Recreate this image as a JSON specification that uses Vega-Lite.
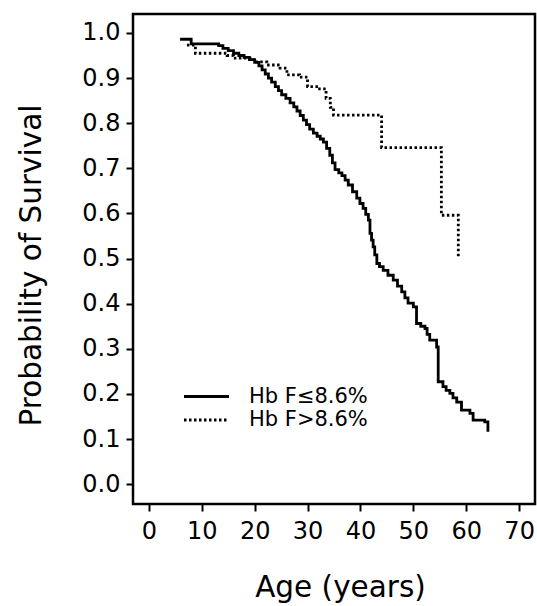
{
  "$schema": "https://vega.github.io/schema/vega-lite/v6.json",
  "autosize": {"type": "none"},
  "width": 402,
  "height": 490,
  "padding": {"left": 133, "top": 14, "right": 2, "bottom": 102},
  "background": "white",
  "config": {
    "view": {"stroke": "#000", "strokeWidth": 2.5},
    "font": "DejaVu Sans",
    "axis": {
      "domain": false,
      "grid": false,
      "tickColor": "#000",
      "tickWidth": 2,
      "tickSize": 7,
      "labelColor": "#000",
      "labelFont": "DejaVu Sans",
      "labelFontSize": 24,
      "titleColor": "#000",
      "titleFont": "DejaVu Sans",
      "titleFontSize": 29.5,
      "titleFontWeight": "normal"
    }
  },
  "data": {
    "values": [
      {"group": "Hb F≤8.6%", "age": 5.9, "p": 0.986},
      {"group": "Hb F≤8.6%", "age": 8.0, "p": 0.976},
      {"group": "Hb F≤8.6%", "age": 13.2, "p": 0.972},
      {"group": "Hb F≤8.6%", "age": 14.0, "p": 0.966},
      {"group": "Hb F≤8.6%", "age": 15.0, "p": 0.961},
      {"group": "Hb F≤8.6%", "age": 16.0, "p": 0.955},
      {"group": "Hb F≤8.6%", "age": 17.0, "p": 0.95},
      {"group": "Hb F≤8.6%", "age": 18.0, "p": 0.946},
      {"group": "Hb F≤8.6%", "age": 19.0, "p": 0.941},
      {"group": "Hb F≤8.6%", "age": 20.0, "p": 0.935},
      {"group": "Hb F≤8.6%", "age": 20.8, "p": 0.927},
      {"group": "Hb F≤8.6%", "age": 21.4, "p": 0.918},
      {"group": "Hb F≤8.6%", "age": 22.0, "p": 0.909},
      {"group": "Hb F≤8.6%", "age": 22.6, "p": 0.9},
      {"group": "Hb F≤8.6%", "age": 23.2, "p": 0.891},
      {"group": "Hb F≤8.6%", "age": 23.9, "p": 0.881},
      {"group": "Hb F≤8.6%", "age": 24.5, "p": 0.872},
      {"group": "Hb F≤8.6%", "age": 25.1, "p": 0.863},
      {"group": "Hb F≤8.6%", "age": 25.9, "p": 0.855},
      {"group": "Hb F≤8.6%", "age": 26.7, "p": 0.845},
      {"group": "Hb F≤8.6%", "age": 27.4, "p": 0.836},
      {"group": "Hb F≤8.6%", "age": 28.0, "p": 0.827},
      {"group": "Hb F≤8.6%", "age": 28.6, "p": 0.817},
      {"group": "Hb F≤8.6%", "age": 29.2, "p": 0.807},
      {"group": "Hb F≤8.6%", "age": 29.8, "p": 0.797},
      {"group": "Hb F≤8.6%", "age": 30.4, "p": 0.787},
      {"group": "Hb F≤8.6%", "age": 31.1, "p": 0.778},
      {"group": "Hb F≤8.6%", "age": 31.8, "p": 0.771},
      {"group": "Hb F≤8.6%", "age": 32.4, "p": 0.765},
      {"group": "Hb F≤8.6%", "age": 33.0, "p": 0.758},
      {"group": "Hb F≤8.6%", "age": 33.6, "p": 0.744},
      {"group": "Hb F≤8.6%", "age": 34.2, "p": 0.729},
      {"group": "Hb F≤8.6%", "age": 34.7, "p": 0.712},
      {"group": "Hb F≤8.6%", "age": 35.2, "p": 0.697},
      {"group": "Hb F≤8.6%", "age": 35.9, "p": 0.69},
      {"group": "Hb F≤8.6%", "age": 36.5, "p": 0.684},
      {"group": "Hb F≤8.6%", "age": 37.1, "p": 0.674},
      {"group": "Hb F≤8.6%", "age": 37.7, "p": 0.663},
      {"group": "Hb F≤8.6%", "age": 38.5, "p": 0.648},
      {"group": "Hb F≤8.6%", "age": 39.3, "p": 0.634},
      {"group": "Hb F≤8.6%", "age": 39.9, "p": 0.622},
      {"group": "Hb F≤8.6%", "age": 40.5, "p": 0.611},
      {"group": "Hb F≤8.6%", "age": 41.0, "p": 0.598},
      {"group": "Hb F≤8.6%", "age": 41.5, "p": 0.585},
      {"group": "Hb F≤8.6%", "age": 41.8, "p": 0.556},
      {"group": "Hb F≤8.6%", "age": 42.1, "p": 0.541},
      {"group": "Hb F≤8.6%", "age": 42.4, "p": 0.526},
      {"group": "Hb F≤8.6%", "age": 42.7, "p": 0.508},
      {"group": "Hb F≤8.6%", "age": 43.1, "p": 0.489},
      {"group": "Hb F≤8.6%", "age": 43.6, "p": 0.482},
      {"group": "Hb F≤8.6%", "age": 44.3, "p": 0.474},
      {"group": "Hb F≤8.6%", "age": 45.2, "p": 0.463},
      {"group": "Hb F≤8.6%", "age": 46.2, "p": 0.452},
      {"group": "Hb F≤8.6%", "age": 47.0, "p": 0.439},
      {"group": "Hb F≤8.6%", "age": 47.8, "p": 0.426},
      {"group": "Hb F≤8.6%", "age": 48.4, "p": 0.413},
      {"group": "Hb F≤8.6%", "age": 49.0, "p": 0.401},
      {"group": "Hb F≤8.6%", "age": 50.0, "p": 0.393},
      {"group": "Hb F≤8.6%", "age": 50.6, "p": 0.356},
      {"group": "Hb F≤8.6%", "age": 51.4, "p": 0.35},
      {"group": "Hb F≤8.6%", "age": 52.2, "p": 0.345},
      {"group": "Hb F≤8.6%", "age": 52.6, "p": 0.332},
      {"group": "Hb F≤8.6%", "age": 53.1, "p": 0.319},
      {"group": "Hb F≤8.6%", "age": 54.4, "p": 0.304},
      {"group": "Hb F≤8.6%", "age": 54.7, "p": 0.227},
      {"group": "Hb F≤8.6%", "age": 55.6, "p": 0.216},
      {"group": "Hb F≤8.6%", "age": 56.2, "p": 0.208},
      {"group": "Hb F≤8.6%", "age": 56.9, "p": 0.201},
      {"group": "Hb F≤8.6%", "age": 57.5, "p": 0.191},
      {"group": "Hb F≤8.6%", "age": 58.2, "p": 0.182},
      {"group": "Hb F≤8.6%", "age": 59.1, "p": 0.164},
      {"group": "Hb F≤8.6%", "age": 60.7, "p": 0.157},
      {"group": "Hb F≤8.6%", "age": 61.3, "p": 0.142},
      {"group": "Hb F≤8.6%", "age": 63.5, "p": 0.138},
      {"group": "Hb F≤8.6%", "age": 64.1, "p": 0.116},
      {"group": "Hb F>8.6%", "age": 7.2, "p": 0.973},
      {"group": "Hb F>8.6%", "age": 8.8, "p": 0.955},
      {"group": "Hb F>8.6%", "age": 14.8, "p": 0.95},
      {"group": "Hb F>8.6%", "age": 16.0, "p": 0.944},
      {"group": "Hb F>8.6%", "age": 19.8, "p": 0.936},
      {"group": "Hb F>8.6%", "age": 22.3, "p": 0.929},
      {"group": "Hb F>8.6%", "age": 24.8, "p": 0.922},
      {"group": "Hb F>8.6%", "age": 26.1, "p": 0.907},
      {"group": "Hb F>8.6%", "age": 28.5, "p": 0.902},
      {"group": "Hb F>8.6%", "age": 30.0, "p": 0.881},
      {"group": "Hb F>8.6%", "age": 32.0, "p": 0.876},
      {"group": "Hb F>8.6%", "age": 33.5, "p": 0.855},
      {"group": "Hb F>8.6%", "age": 34.3, "p": 0.835},
      {"group": "Hb F>8.6%", "age": 34.9, "p": 0.818},
      {"group": "Hb F>8.6%", "age": 44.0, "p": 0.746},
      {"group": "Hb F>8.6%", "age": 55.3, "p": 0.596},
      {"group": "Hb F>8.6%", "age": 58.5, "p": 0.5}
    ]
  },
  "mark": {"type": "line", "interpolate": "step-after", "color": "#000", "strokeWidth": 2.8},
  "encoding": {
    "x": {
      "field": "age",
      "type": "quantitative",
      "scale": {"domain": [-3, 73], "nice": false, "zero": false},
      "axis": {"values": [0, 10, 20, 30, 40, 50, 60, 70], "title": "Age (years)", "labelPadding": 8, "titlePadding": 30, "titleX": 207, "labelFlush": false}
    },
    "y": {
      "field": "p",
      "type": "quantitative",
      "scale": {"domain": [-0.044, 1.042], "nice": false, "zero": false},
      "axis": {"values": [0, 0.1, 0.2, 0.3, 0.4, 0.5, 0.6, 0.7, 0.8, 0.9, 1.0], "format": ".1f", "title": "Probability of Survival", "labelPadding": 6, "titlePadding": 35, "titleY": 251, "labelFlush": false}
    },
    "strokeDash": {
      "field": "group",
      "type": "nominal",
      "scale": {"domain": ["Hb F≤8.6%", "Hb F>8.6%"], "range": [[1, 0], [2.5, 2.5]]},
      "legend": {
        "orient": "none",
        "legendX": 63,
        "legendY": 372,
        "title": null,
        "symbolType": "M-4,0H4",
        "symbolSize": 126.5,
        "symbolStrokeWidth": 2.8,
        "symbolStrokeColor": "#000",
        "symbolFillColor": "transparent",
        "labelFont": "DejaVu Sans",
        "labelFontSize": 21,
        "labelColor": "#000",
        "labelOffset": 32,
        "rowPadding": 1.5
      }
    }
  }
}
